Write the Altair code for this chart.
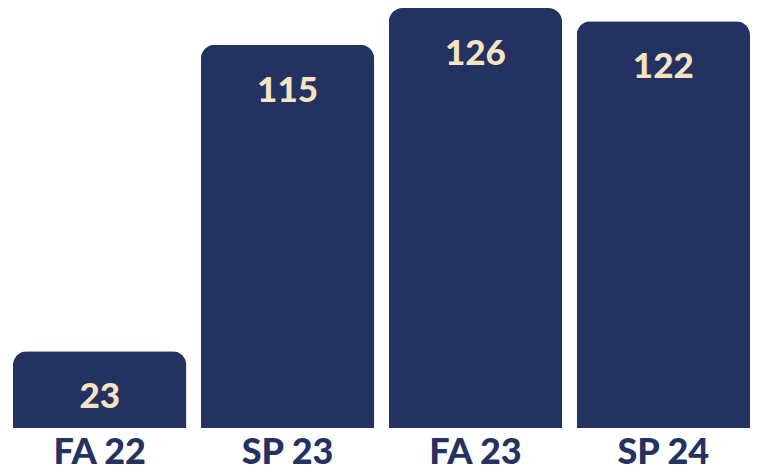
import altair as alt
import pandas as pd

terms = ["FA 22", "SP 23", "FA 23", "SP 24"]
counts = [23, 115, 126, 122]

df = pd.DataFrame({"term": terms, "count": counts})

NAVY = "#243262"
CREAM = "#F6E3C1"
FONT = "Lato"

x = alt.X("term:N", sort=terms, title=None,
          scale=alt.Scale(paddingInner=0.0772, paddingOuter=0.0133, align=1),
          axis=alt.Axis(domain=False, ticks=False, tickSize=0, labelAngle=0,
                        labelFont=FONT, labelFontSize=36, labelFontWeight=900,
                        labelColor=NAVY, labelPadding=35,
                        labelBaseline="alphabetic"))
y = alt.Y("count:Q", title=None, scale=alt.Scale(domain=[0, 126], nice=False),
          axis=None)

bars = alt.Chart(df).mark_bar(color=NAVY, cornerRadiusTopLeft=14,
                              cornerRadiusTopRight=14).encode(x=x, y=y)
labels = alt.Chart(df).mark_text(color=CREAM, font=FONT, fontSize=35,
                                 fontWeight=900, baseline="middle",
                                 dy=46).encode(x=x, y=y, text="count:Q")

chart = (bars + labels).properties(
    width=742, height=420,
    autosize=alt.AutoSizeParams(type="none"),
    padding={"left": 0, "top": 0, "right": 0, "bottom": 38},
).configure_view(stroke=None)

chart.save("out.html", embed_options={"renderer": "svg", "actions": False})
